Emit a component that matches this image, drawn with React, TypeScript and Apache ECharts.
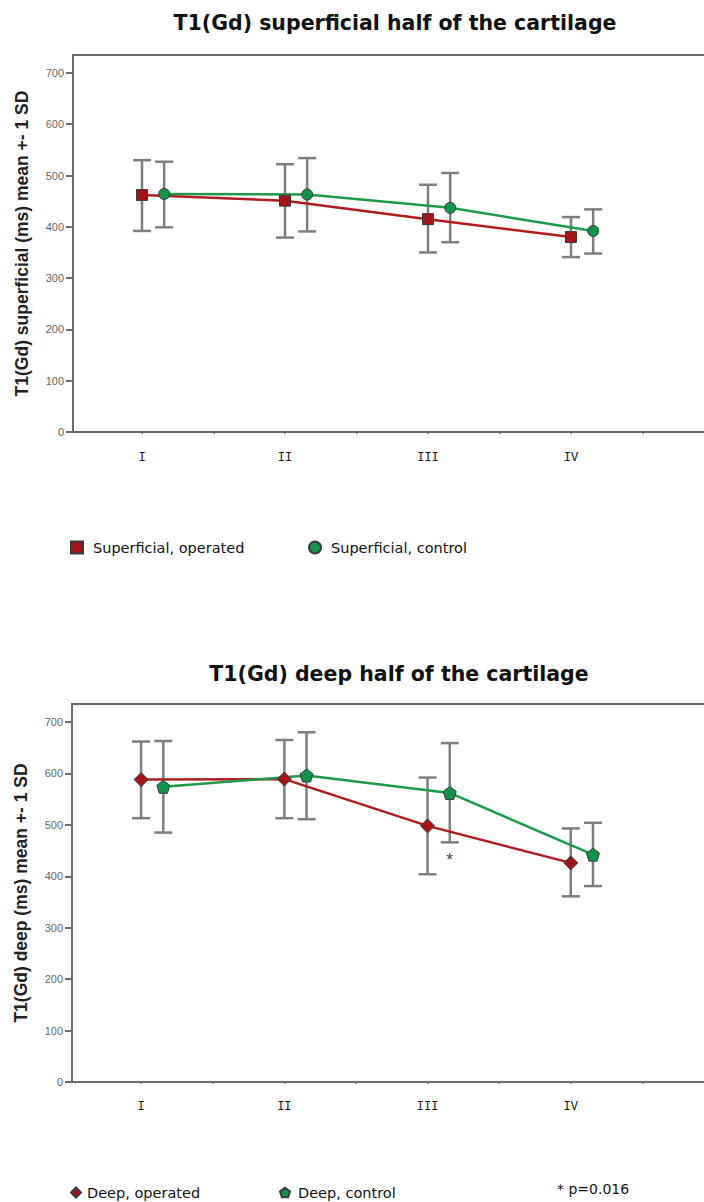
import React, { useEffect, useRef } from "react";
import * as echarts from "echarts";

const categories = ["I", "II", "III", "IV"];
const yTickValues = [0, 100, 200, 300, 400, 500, 600, 700];

const supOpMean = [462, 451, 415, 380];
const supOpHigh = [530, 522, 482, 419];
const supOpLow = [392, 379, 350, 341];
const supCtlMean = [464, 463, 437, 392];
const supCtlHigh = [527, 534, 505, 434];
const supCtlLow = [399, 391, 370, 348];

const deepOpMean = [588, 589, 498, 426];
const deepOpHigh = [662, 665, 592, 493];
const deepOpLow = [513, 513, 404, 361];
const deepCtlMean = [574, 596, 562, 442];
const deepCtlHigh = [663, 680, 659, 504];
const deepCtlLow = [485, 511, 466, 381];

const sigCategory = "III";
const sigLabelValue = 430;

const RED_LINE = "#b01c20";
const RED_FILL = "#a3141a";
const GREEN_LINE = "#1f9a4b";
const GREEN_FILL = "#12934a";
const AXIS = "#6b6b6b";
const ERR = "#7f7f7f";
const CTRL_OFFSET = 0.31;

const PENTAGON = "path://M0,-10 L9.5,-3.1 L5.9,8.1 L-5.9,8.1 L-9.5,-3.1 Z";

const catX = (i: number) => 2 * i + 1;

function pts(means: number[], off: number) {
  return means.map((m, i) => [catX(i) + off, m]);
}
function errs(lo: number[], hi: number[], off: number) {
  return lo.map((l, i) => [catX(i) + off, l, hi[i]]);
}

function renderErr(params: any, api: any) {
  const x = api.value(0);
  const lo = api.coord([x, api.value(1)]);
  const hi = api.coord([x, api.value(2)]);
  const w = 9;
  const style = { stroke: ERR, lineWidth: 2.5 };
  return {
    type: "group",
    children: [
      { type: "line", shape: { x1: lo[0], y1: lo[1], x2: hi[0], y2: hi[1] }, style },
      { type: "line", shape: { x1: hi[0] - w, y1: hi[1], x2: hi[0] + w, y2: hi[1] }, style },
      { type: "line", shape: { x1: lo[0] - w, y1: lo[1], x2: lo[0] + w, y2: lo[1] }, style },
    ],
  };
}

function xAxisFor(gridIndex: number, margin: number) {
  return {
    gridIndex,
    type: "value",
    min: 0.035,
    max: 9,
    axisLine: { show: true, lineStyle: { color: AXIS, width: 2 } },
    axisTick: {
      show: true,
      customValues: [1, 2, 3, 4, 5, 6, 7, 8],
      length: 2,
      lineStyle: { color: AXIS, width: 1.5 },
    },
    axisLabel: {
      customValues: categories.map((_, i) => catX(i)),
      formatter: (v: number) => categories[Math.round((v - 1) / 2)] ?? "",
      fontFamily: "Liberation Mono",
      fontSize: 12,
      color: "#111",
      margin,
    },
    splitLine: { show: false },
  };
}

function yAxisFor(gridIndex: number, name: string) {
  return {
    gridIndex,
    type: "value",
    min: 0,
    max: 735,
    name,
    nameLocation: "middle",
    nameGap: 42,
    nameTextStyle: {
      fontFamily: "Liberation Sans",
      fontWeight: "bold",
      fontSize: 17.5,
      color: "#222",
    },
    axisLine: { show: true, lineStyle: { color: AXIS, width: 2 } },
    axisTick: {
      show: true,
      customValues: yTickValues,
      length: 7,
      lineStyle: { color: AXIS, width: 2 },
    },
    axisLabel: {
      customValues: yTickValues,
      fontFamily: "Liberation Sans",
      fontSize: 11,
      color: "#666",
      margin: 9,
    },
    splitLine: { show: false },
  };
}

function lineSeries(name: string, g: number, data: number[][], lineColor: string, fill: string, symbol: string, size: number) {
  return {
    name,
    type: "line",
    xAxisIndex: g,
    yAxisIndex: g,
    data,
    symbol,
    symbolSize: size,
    z: 5,
    lineStyle: { color: lineColor, width: 2.5 },
    itemStyle: { color: fill, borderColor: "#3a3a3a", borderWidth: 1 },
  };
}

function errSeries(g: number, data: number[][]) {
  return {
    type: "custom",
    xAxisIndex: g,
    yAxisIndex: g,
    data,
    encode: { x: 0, y: [1, 2] },
    renderItem: renderErr,
    z: 2,
    silent: true,
  };
}

function legendFor(name: string, left: number, top: number, icon: string, size: number, pad: number) {
  return {
    data: [{ name, icon }],
    left,
    top,
    padding: 0,
    itemWidth: size,
    itemHeight: size,
    textStyle: {
      fontFamily: "DejaVu Sans",
      fontSize: 14.5,
      color: "#111",
      padding: [0, 0, 0, pad],
    },
  };
}

export default function App() {
  const ref = useRef<HTMLDivElement>(null);
  useEffect(() => {
    if (!ref.current) return;
    const chart = echarts.init(ref.current, null, { renderer: "svg" });
    const sigIdx = categories.indexOf(sigCategory);
    chart.setOption({
      animation: false,
      backgroundColor: "#fff",
      title: [
        {
          text: "T1(Gd) superficial half of the cartilage",
          left: 390,
          top: 7,
          textAlign: "center",
          textStyle: { fontFamily: "DejaVu Sans", fontWeight: "bold", fontSize: 20.5, color: "#111" },
        },
        {
          text: "T1(Gd) deep half of the cartilage",
          left: 394,
          top: 658,
          textAlign: "center",
          textStyle: { fontFamily: "DejaVu Sans", fontWeight: "bold", fontSize: 20.5, color: "#111" },
        },
      ],
      grid: [
        {
          left: 73, top: 55, width: 641, height: 377,
          show: true, borderColor: AXIS, borderWidth: 2,
          outerBoundsMode: "none", containLabel: false,
        },
        {
          left: 72, top: 704, width: 642, height: 378,
          show: true, borderColor: AXIS, borderWidth: 2,
          outerBoundsMode: "none", containLabel: false,
        },
      ],
      xAxis: [xAxisFor(0, 20), xAxisFor(1, 19)],
      yAxis: [
        yAxisFor(0, "T1(Gd) superficial (ms) mean +- 1 SD"),
        yAxisFor(1, "T1(Gd) deep (ms) mean +- 1 SD"),
      ],
      legend: [
        legendFor("Superficial, operated", 70, 540, "rect", 12, 5),
        legendFor("Superficial, control", 308, 540, "circle", 12, 5),
        legendFor("Deep, operated", 70, 1185, "diamond", 10, 1),
        legendFor("Deep, control", 279, 1185, PENTAGON, 10, 3),
      ],
      graphic: [
        {
          type: "text",
          left: 557,
          top: 1182,
          style: { text: "* p=0.016", fontFamily: "DejaVu Sans", fontSize: 14, fill: "#111" },
        },
      ],
      series: [
        errSeries(0, errs(supOpLow, supOpHigh, 0)),
        errSeries(0, errs(supCtlLow, supCtlHigh, CTRL_OFFSET)),
        lineSeries("Superficial, operated", 0, pts(supOpMean, 0), RED_LINE, RED_FILL, "rect", 11),
        lineSeries("Superficial, control", 0, pts(supCtlMean, CTRL_OFFSET), GREEN_LINE, GREEN_FILL, "circle", 11),
        errSeries(1, errs(deepOpLow, deepOpHigh, 0)),
        errSeries(1, errs(deepCtlLow, deepCtlHigh, CTRL_OFFSET)),
        lineSeries("Deep, operated", 1, pts(deepOpMean, 0), RED_LINE, RED_FILL, "diamond", 14),
        lineSeries("Deep, control", 1, pts(deepCtlMean, CTRL_OFFSET), GREEN_LINE, GREEN_FILL, PENTAGON, 13),
        {
          type: "scatter",
          xAxisIndex: 1,
          yAxisIndex: 1,
          data: [[catX(sigIdx) + CTRL_OFFSET, sigLabelValue]],
          symbolSize: 2,
          itemStyle: { color: "rgba(0,0,0,0)" },
          silent: true,
          z: 6,
          label: {
            show: true,
            position: "inside",
            formatter: "*",
            fontFamily: "Liberation Mono",
            fontSize: 18,
            color: "#111",
          },
        },
      ],
    });
    return () => chart.dispose();
  }, []);
  return (
    <div
      ref={ref}
      style={{ position: "absolute", left: 0, top: 0, width: 704, height: 1202, background: "#fff" }}
    />
  );
}
